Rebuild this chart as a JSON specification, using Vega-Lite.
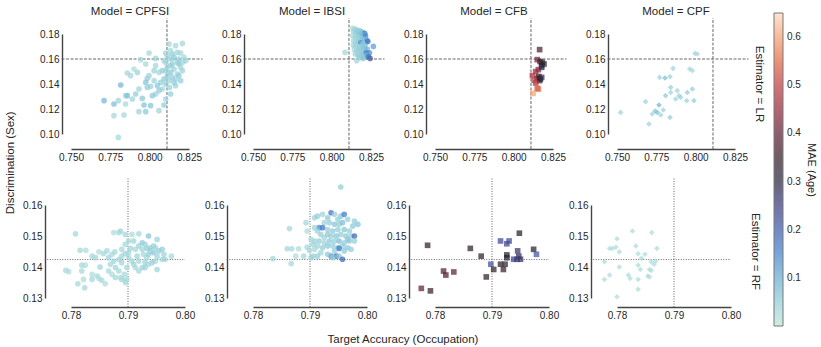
{
"$schema": "https://vega.github.io/schema/vega-lite/v6.json",
"config": {"view": {"stroke": null}, "font": "Liberation Sans",
  "axis": {"grid": false, "ticks": false, "labelFontSize": 10, "labelColor": "#262626", "domainColor": "#444", "domainWidth": 1.4, "title": null, "labelPadding": 3, "labelFont": "Liberation Sans", "labelOverlap": false, "labelFlush": false, "labelBound": false},
  "header": {"labelFont": "Liberation Sans", "labelFontSize": 11.5, "labelColor": "#262626"},
  "title": {"font": "Liberation Sans", "fontSize": 11.5, "fontWeight": "normal", "color": "#262626"},
  "legend": {"labelFont": "Liberation Sans", "titleFont": "Liberation Sans"}
},
"datasets": {"pts": [
{"Model":"CPFSI","Estimator":"LR","acc":0.8208,"disc":0.1725,"mae":0.03},
{"Model":"CPFSI","Estimator":"LR","acc":0.8123,"disc":0.1720,"mae":0.04},
{"Model":"CPFSI","Estimator":"LR","acc":0.8165,"disc":0.1707,"mae":0.03},
{"Model":"CPFSI","Estimator":"LR","acc":0.8176,"disc":0.1653,"mae":0.04},
{"Model":"CPFSI","Estimator":"LR","acc":0.8197,"disc":0.1648,"mae":0.03},
{"Model":"CPFSI","Estimator":"LR","acc":0.8144,"disc":0.1640,"mae":0.05},
{"Model":"CPFSI","Estimator":"LR","acc":0.8102,"disc":0.1648,"mae":0.03},
{"Model":"CPFSI","Estimator":"LR","acc":0.7996,"disc":0.1648,"mae":0.03},
{"Model":"CPFSI","Estimator":"LR","acc":0.8038,"disc":0.1605,"mae":0.04},
{"Model":"CPFSI","Estimator":"LR","acc":0.7943,"disc":0.1595,"mae":0.03},
{"Model":"CPFSI","Estimator":"LR","acc":0.7975,"disc":0.1560,"mae":0.03},
{"Model":"CPFSI","Estimator":"LR","acc":0.7900,"disc":0.1520,"mae":0.02},
{"Model":"CPFSI","Estimator":"LR","acc":0.7858,"disc":0.1488,"mae":0.03},
{"Model":"CPFSI","Estimator":"LR","acc":0.7879,"disc":0.1467,"mae":0.03},
{"Model":"CPFSI","Estimator":"LR","acc":0.7922,"disc":0.1493,"mae":0.04},
{"Model":"CPFSI","Estimator":"LR","acc":0.7985,"disc":0.1445,"mae":0.05},
{"Model":"CPFSI","Estimator":"LR","acc":0.8038,"disc":0.1547,"mae":0.03},
{"Model":"CPFSI","Estimator":"LR","acc":0.8028,"disc":0.1507,"mae":0.04},
{"Model":"CPFSI","Estimator":"LR","acc":0.8059,"disc":0.1493,"mae":0.03},
{"Model":"CPFSI","Estimator":"LR","acc":0.8080,"disc":0.1507,"mae":0.05},
{"Model":"CPFSI","Estimator":"LR","acc":0.8102,"disc":0.1573,"mae":0.04},
{"Model":"CPFSI","Estimator":"LR","acc":0.8123,"disc":0.1600,"mae":0.03},
{"Model":"CPFSI","Estimator":"LR","acc":0.8186,"disc":0.1600,"mae":0.04},
{"Model":"CPFSI","Estimator":"LR","acc":0.8208,"disc":0.1573,"mae":0.03},
{"Model":"CPFSI","Estimator":"LR","acc":0.8144,"disc":0.1560,"mae":0.05},
{"Model":"CPFSI","Estimator":"LR","acc":0.8155,"disc":0.1520,"mae":0.04},
{"Model":"CPFSI","Estimator":"LR","acc":0.8197,"disc":0.1533,"mae":0.03},
{"Model":"CPFSI","Estimator":"LR","acc":0.8176,"disc":0.1480,"mae":0.04},
{"Model":"CPFSI","Estimator":"LR","acc":0.8144,"disc":0.1453,"mae":0.05},
{"Model":"CPFSI","Estimator":"LR","acc":0.8123,"disc":0.1427,"mae":0.04},
{"Model":"CPFSI","Estimator":"LR","acc":0.8102,"disc":0.1400,"mae":0.05},
{"Model":"CPFSI","Estimator":"LR","acc":0.8080,"disc":0.1360,"mae":0.04},
{"Model":"CPFSI","Estimator":"LR","acc":0.8059,"disc":0.1347,"mae":0.05},
{"Model":"CPFSI","Estimator":"LR","acc":0.8038,"disc":0.1320,"mae":0.04},
{"Model":"CPFSI","Estimator":"LR","acc":0.8017,"disc":0.1307,"mae":0.06},
{"Model":"CPFSI","Estimator":"LR","acc":0.8006,"disc":0.1381,"mae":0.04},
{"Model":"CPFSI","Estimator":"LR","acc":0.7975,"disc":0.1413,"mae":0.07},
{"Model":"CPFSI","Estimator":"LR","acc":0.7985,"disc":0.1373,"mae":0.05},
{"Model":"CPFSI","Estimator":"LR","acc":0.7932,"disc":0.1360,"mae":0.04},
{"Model":"CPFSI","Estimator":"LR","acc":0.7911,"disc":0.1320,"mae":0.05},
{"Model":"CPFSI","Estimator":"LR","acc":0.7953,"disc":0.1285,"mae":0.06},
{"Model":"CPFSI","Estimator":"LR","acc":0.7890,"disc":0.1280,"mae":0.04},
{"Model":"CPFSI","Estimator":"LR","acc":0.7847,"disc":0.1307,"mae":0.03},
{"Model":"CPFSI","Estimator":"LR","acc":0.7816,"disc":0.1392,"mae":0.09},
{"Model":"CPFSI","Estimator":"LR","acc":0.7858,"disc":0.1307,"mae":0.08},
{"Model":"CPFSI","Estimator":"LR","acc":0.7710,"disc":0.1267,"mae":0.09},
{"Model":"CPFSI","Estimator":"LR","acc":0.7773,"disc":0.1240,"mae":0.08},
{"Model":"CPFSI","Estimator":"LR","acc":0.7801,"disc":0.1267,"mae":0.04},
{"Model":"CPFSI","Estimator":"LR","acc":0.7847,"disc":0.1240,"mae":0.03},
{"Model":"CPFSI","Estimator":"LR","acc":0.7773,"disc":0.1147,"mae":0.03},
{"Model":"CPFSI","Estimator":"LR","acc":0.7837,"disc":0.1152,"mae":0.03},
{"Model":"CPFSI","Estimator":"LR","acc":0.7801,"disc":0.0973,"mae":0.03},
{"Model":"CPFSI","Estimator":"LR","acc":0.7932,"disc":0.1179,"mae":0.04},
{"Model":"CPFSI","Estimator":"LR","acc":0.7975,"disc":0.1179,"mae":0.06},
{"Model":"CPFSI","Estimator":"LR","acc":0.8006,"disc":0.1227,"mae":0.07},
{"Model":"CPFSI","Estimator":"LR","acc":0.8059,"disc":0.1187,"mae":0.04},
{"Model":"CPFSI","Estimator":"LR","acc":0.8091,"disc":0.1232,"mae":0.05},
{"Model":"CPFSI","Estimator":"LR","acc":0.8102,"disc":0.1280,"mae":0.04},
{"Model":"CPFSI","Estimator":"LR","acc":0.8133,"disc":0.1320,"mae":0.05},
{"Model":"CPFSI","Estimator":"LR","acc":0.8165,"disc":0.1387,"mae":0.04},
{"Model":"CPFSI","Estimator":"LR","acc":0.8197,"disc":0.1427,"mae":0.05},
{"Model":"CPFSI","Estimator":"LR","acc":0.8165,"disc":0.1440,"mae":0.04},
{"Model":"CPFSI","Estimator":"LR","acc":0.8133,"disc":0.1493,"mae":0.06},
{"Model":"CPFSI","Estimator":"LR","acc":0.8112,"disc":0.1467,"mae":0.05},
{"Model":"CPFSI","Estimator":"LR","acc":0.8091,"disc":0.1440,"mae":0.06},
{"Model":"CPFSI","Estimator":"LR","acc":0.8070,"disc":0.1413,"mae":0.05},
{"Model":"CPFSI","Estimator":"LR","acc":0.8049,"disc":0.1387,"mae":0.06},
{"Model":"CPFSI","Estimator":"LR","acc":0.8028,"disc":0.1427,"mae":0.04},
{"Model":"CPFSI","Estimator":"LR","acc":0.7996,"disc":0.1467,"mae":0.04},
{"Model":"CPFSI","Estimator":"LR","acc":0.8208,"disc":0.1507,"mae":0.04},
{"Model":"CPFSI","Estimator":"LR","acc":0.8186,"disc":0.1560,"mae":0.05},
{"Model":"CPFSI","Estimator":"LR","acc":0.8218,"disc":0.1613,"mae":0.03},
{"Model":"CPFSI","Estimator":"LR","acc":0.8229,"disc":0.1587,"mae":0.04},
{"Model":"CPFSI","Estimator":"LR","acc":0.8155,"disc":0.1613,"mae":0.05},
{"Model":"CPFSI","Estimator":"LR","acc":0.8133,"disc":0.1667,"mae":0.03},
{"Model":"CPFSI","Estimator":"LR","acc":0.8112,"disc":0.1627,"mae":0.04},
{"Model":"CPFSI","Estimator":"LR","acc":0.8133,"disc":0.1547,"mae":0.05},
{"Model":"CPFSI","Estimator":"LR","acc":0.8112,"disc":0.1533,"mae":0.04},
{"Model":"CPFSI","Estimator":"LR","acc":0.8155,"disc":0.1413,"mae":0.05},
{"Model":"CPFSI","Estimator":"LR","acc":0.8127,"disc":0.1373,"mae":0.04},
{"Model":"CPFSI","Estimator":"LR","acc":0.8186,"disc":0.1467,"mae":0.05},
{"Model":"CPFSI","Estimator":"LR","acc":0.8102,"disc":0.1507,"mae":0.04},
{"Model":"CPFSI","Estimator":"LR","acc":0.8144,"disc":0.1600,"mae":0.04},
{"Model":"CPFSI","Estimator":"LR","acc":0.8176,"disc":0.1573,"mae":0.05},
{"Model":"CPFSI","Estimator":"LR","acc":0.8091,"disc":0.1587,"mae":0.03},
{"Model":"CPFSI","Estimator":"LR","acc":0.7964,"disc":0.1232,"mae":0.07},
{"Model":"IBSI","Estimator":"LR","acc":0.8134,"disc":0.1845,"mae":0.03},
{"Model":"IBSI","Estimator":"LR","acc":0.8150,"disc":0.1840,"mae":0.04},
{"Model":"IBSI","Estimator":"LR","acc":0.8165,"disc":0.1830,"mae":0.05},
{"Model":"IBSI","Estimator":"LR","acc":0.8180,"disc":0.1825,"mae":0.06},
{"Model":"IBSI","Estimator":"LR","acc":0.8195,"disc":0.1815,"mae":0.08},
{"Model":"IBSI","Estimator":"LR","acc":0.8210,"disc":0.1805,"mae":0.16},
{"Model":"IBSI","Estimator":"LR","acc":0.8140,"disc":0.1820,"mae":0.04},
{"Model":"IBSI","Estimator":"LR","acc":0.8155,"disc":0.1810,"mae":0.05},
{"Model":"IBSI","Estimator":"LR","acc":0.8170,"disc":0.1800,"mae":0.06},
{"Model":"IBSI","Estimator":"LR","acc":0.8185,"disc":0.1795,"mae":0.07},
{"Model":"IBSI","Estimator":"LR","acc":0.8200,"disc":0.1790,"mae":0.09},
{"Model":"IBSI","Estimator":"LR","acc":0.8215,"disc":0.1785,"mae":0.15},
{"Model":"IBSI","Estimator":"LR","acc":0.8135,"disc":0.1785,"mae":0.03},
{"Model":"IBSI","Estimator":"LR","acc":0.8150,"disc":0.1775,"mae":0.04},
{"Model":"IBSI","Estimator":"LR","acc":0.8165,"disc":0.1770,"mae":0.04},
{"Model":"IBSI","Estimator":"LR","acc":0.8180,"disc":0.1765,"mae":0.05},
{"Model":"IBSI","Estimator":"LR","acc":0.8195,"disc":0.1760,"mae":0.07},
{"Model":"IBSI","Estimator":"LR","acc":0.8210,"disc":0.1755,"mae":0.08},
{"Model":"IBSI","Estimator":"LR","acc":0.8225,"disc":0.1750,"mae":0.12},
{"Model":"IBSI","Estimator":"LR","acc":0.8140,"disc":0.1745,"mae":0.03},
{"Model":"IBSI","Estimator":"LR","acc":0.8155,"disc":0.1740,"mae":0.04},
{"Model":"IBSI","Estimator":"LR","acc":0.8170,"disc":0.1735,"mae":0.05},
{"Model":"IBSI","Estimator":"LR","acc":0.8185,"disc":0.1730,"mae":0.14},
{"Model":"IBSI","Estimator":"LR","acc":0.8200,"disc":0.1725,"mae":0.06},
{"Model":"IBSI","Estimator":"LR","acc":0.8215,"disc":0.1720,"mae":0.07},
{"Model":"IBSI","Estimator":"LR","acc":0.8230,"disc":0.1740,"mae":0.17},
{"Model":"IBSI","Estimator":"LR","acc":0.8138,"disc":0.1710,"mae":0.03},
{"Model":"IBSI","Estimator":"LR","acc":0.8152,"disc":0.1705,"mae":0.04},
{"Model":"IBSI","Estimator":"LR","acc":0.8168,"disc":0.1700,"mae":0.04},
{"Model":"IBSI","Estimator":"LR","acc":0.8183,"disc":0.1695,"mae":0.05},
{"Model":"IBSI","Estimator":"LR","acc":0.8198,"disc":0.1690,"mae":0.06},
{"Model":"IBSI","Estimator":"LR","acc":0.8212,"disc":0.1685,"mae":0.07},
{"Model":"IBSI","Estimator":"LR","acc":0.8226,"disc":0.1680,"mae":0.09},
{"Model":"IBSI","Estimator":"LR","acc":0.8265,"disc":0.1701,"mae":0.12},
{"Model":"IBSI","Estimator":"LR","acc":0.8145,"disc":0.1675,"mae":0.03},
{"Model":"IBSI","Estimator":"LR","acc":0.8160,"disc":0.1670,"mae":0.04},
{"Model":"IBSI","Estimator":"LR","acc":0.8175,"disc":0.1665,"mae":0.05},
{"Model":"IBSI","Estimator":"LR","acc":0.8190,"disc":0.1660,"mae":0.05},
{"Model":"IBSI","Estimator":"LR","acc":0.8205,"disc":0.1655,"mae":0.06},
{"Model":"IBSI","Estimator":"LR","acc":0.8220,"disc":0.1650,"mae":0.16},
{"Model":"IBSI","Estimator":"LR","acc":0.8240,"disc":0.1650,"mae":0.14},
{"Model":"IBSI","Estimator":"LR","acc":0.8085,"disc":0.1653,"mae":0.03},
{"Model":"IBSI","Estimator":"LR","acc":0.8150,"disc":0.1640,"mae":0.04},
{"Model":"IBSI","Estimator":"LR","acc":0.8165,"disc":0.1635,"mae":0.04},
{"Model":"IBSI","Estimator":"LR","acc":0.8180,"disc":0.1630,"mae":0.05},
{"Model":"IBSI","Estimator":"LR","acc":0.8195,"disc":0.1625,"mae":0.06},
{"Model":"IBSI","Estimator":"LR","acc":0.8210,"disc":0.1620,"mae":0.07},
{"Model":"IBSI","Estimator":"LR","acc":0.8225,"disc":0.1625,"mae":0.08},
{"Model":"IBSI","Estimator":"LR","acc":0.8159,"disc":0.1587,"mae":0.03},
{"Model":"IBSI","Estimator":"LR","acc":0.8244,"disc":0.1605,"mae":0.21},
{"Model":"IBSI","Estimator":"LR","acc":0.8175,"disc":0.1610,"mae":0.05},
{"Model":"IBSI","Estimator":"LR","acc":0.8200,"disc":0.1605,"mae":0.06},
{"Model":"IBSI","Estimator":"LR","acc":0.8233,"disc":0.1620,"mae":0.18},
{"Model":"CFB","Estimator":"LR","acc":0.8165,"disc":0.1675,"mae":0.37},
{"Model":"CFB","Estimator":"LR","acc":0.8150,"disc":0.1595,"mae":0.42},
{"Model":"CFB","Estimator":"LR","acc":0.8182,"disc":0.1573,"mae":0.33},
{"Model":"CFB","Estimator":"LR","acc":0.8193,"disc":0.1560,"mae":0.30},
{"Model":"CFB","Estimator":"LR","acc":0.8178,"disc":0.1547,"mae":0.34},
{"Model":"CFB","Estimator":"LR","acc":0.8157,"disc":0.1515,"mae":0.43},
{"Model":"CFB","Estimator":"LR","acc":0.8140,"disc":0.1499,"mae":0.45},
{"Model":"CFB","Estimator":"LR","acc":0.8119,"disc":0.1467,"mae":0.48},
{"Model":"CFB","Estimator":"LR","acc":0.8150,"disc":0.1445,"mae":0.33},
{"Model":"CFB","Estimator":"LR","acc":0.8165,"disc":0.1427,"mae":0.34},
{"Model":"CFB","Estimator":"LR","acc":0.8170,"disc":0.1440,"mae":0.32},
{"Model":"CFB","Estimator":"LR","acc":0.8140,"disc":0.1408,"mae":0.47},
{"Model":"CFB","Estimator":"LR","acc":0.8150,"disc":0.1365,"mae":0.52},
{"Model":"CFB","Estimator":"LR","acc":0.8123,"disc":0.1325,"mae":0.60},
{"Model":"CFB","Estimator":"LR","acc":0.8157,"disc":0.1360,"mae":0.55},
{"Model":"CFB","Estimator":"LR","acc":0.8178,"disc":0.1453,"mae":0.28},
{"Model":"CFB","Estimator":"LR","acc":0.8178,"disc":0.1533,"mae":0.29},
{"Model":"CFB","Estimator":"LR","acc":0.8168,"disc":0.1580,"mae":0.35},
{"Model":"CFB","Estimator":"LR","acc":0.8160,"disc":0.1460,"mae":0.36},
{"Model":"CFB","Estimator":"LR","acc":0.8130,"disc":0.1430,"mae":0.50},
{"Model":"CPF","Estimator":"LR","acc":0.7996,"disc":0.1645,"mae":0.04},
{"Model":"CPF","Estimator":"LR","acc":0.8011,"disc":0.1640,"mae":0.03},
{"Model":"CPF","Estimator":"LR","acc":0.7962,"disc":0.1520,"mae":0.04},
{"Model":"CPF","Estimator":"LR","acc":0.7979,"disc":0.1507,"mae":0.03},
{"Model":"CPF","Estimator":"LR","acc":0.7856,"disc":0.1525,"mae":0.04},
{"Model":"CPF","Estimator":"LR","acc":0.7771,"disc":0.1453,"mae":0.04},
{"Model":"CPF","Estimator":"LR","acc":0.7805,"disc":0.1448,"mae":0.08},
{"Model":"CPF","Estimator":"LR","acc":0.7837,"disc":0.1459,"mae":0.04},
{"Model":"CPF","Estimator":"LR","acc":0.7841,"disc":0.1373,"mae":0.05},
{"Model":"CPF","Estimator":"LR","acc":0.7841,"disc":0.1333,"mae":0.04},
{"Model":"CPF","Estimator":"LR","acc":0.7809,"disc":0.1307,"mae":0.06},
{"Model":"CPF","Estimator":"LR","acc":0.7883,"disc":0.1347,"mae":0.04},
{"Model":"CPF","Estimator":"LR","acc":0.7894,"disc":0.1307,"mae":0.04},
{"Model":"CPF","Estimator":"LR","acc":0.7947,"disc":0.1333,"mae":0.05},
{"Model":"CPF","Estimator":"LR","acc":0.7979,"disc":0.1360,"mae":0.05},
{"Model":"CPF","Estimator":"LR","acc":0.7943,"disc":0.1267,"mae":0.04},
{"Model":"CPF","Estimator":"LR","acc":0.7989,"disc":0.1267,"mae":0.05},
{"Model":"CPF","Estimator":"LR","acc":0.7905,"disc":0.1293,"mae":0.04},
{"Model":"CPF","Estimator":"LR","acc":0.7873,"disc":0.1280,"mae":0.04},
{"Model":"CPF","Estimator":"LR","acc":0.7682,"disc":0.1259,"mae":0.04},
{"Model":"CPF","Estimator":"LR","acc":0.7767,"disc":0.1232,"mae":0.09},
{"Model":"CPF","Estimator":"LR","acc":0.7794,"disc":0.1192,"mae":0.04},
{"Model":"CPF","Estimator":"LR","acc":0.7756,"disc":0.1173,"mae":0.08},
{"Model":"CPF","Estimator":"LR","acc":0.7742,"disc":0.1184,"mae":0.07},
{"Model":"CPF","Estimator":"LR","acc":0.7724,"disc":0.1160,"mae":0.04},
{"Model":"CPF","Estimator":"LR","acc":0.7778,"disc":0.1152,"mae":0.04},
{"Model":"CPF","Estimator":"LR","acc":0.7837,"disc":0.1133,"mae":0.05},
{"Model":"CPF","Estimator":"LR","acc":0.7523,"disc":0.1173,"mae":0.04},
{"Model":"CPF","Estimator":"LR","acc":0.7703,"disc":0.1080,"mae":0.04},
{"Model":"CPFSI","Estimator":"RF","acc":0.7808,"disc":0.1507,"mae":0.03},
{"Model":"CPFSI","Estimator":"RF","acc":0.7791,"disc":0.1389,"mae":0.03},
{"Model":"CPFSI","Estimator":"RF","acc":0.7796,"disc":0.1385,"mae":0.02},
{"Model":"CPFSI","Estimator":"RF","acc":0.7816,"disc":0.1454,"mae":0.03},
{"Model":"CPFSI","Estimator":"RF","acc":0.7826,"disc":0.1454,"mae":0.02},
{"Model":"CPFSI","Estimator":"RF","acc":0.7819,"disc":0.1406,"mae":0.03},
{"Model":"CPFSI","Estimator":"RF","acc":0.7825,"disc":0.1406,"mae":0.02},
{"Model":"CPFSI","Estimator":"RF","acc":0.7819,"disc":0.1387,"mae":0.03},
{"Model":"CPFSI","Estimator":"RF","acc":0.7822,"disc":0.1360,"mae":0.02},
{"Model":"CPFSI","Estimator":"RF","acc":0.7812,"disc":0.1346,"mae":0.03},
{"Model":"CPFSI","Estimator":"RF","acc":0.7824,"disc":0.1333,"mae":0.03},
{"Model":"CPFSI","Estimator":"RF","acc":0.7837,"disc":0.1376,"mae":0.02},
{"Model":"CPFSI","Estimator":"RF","acc":0.7846,"disc":0.1371,"mae":0.03},
{"Model":"CPFSI","Estimator":"RF","acc":0.7837,"disc":0.1360,"mae":0.03},
{"Model":"CPFSI","Estimator":"RF","acc":0.7849,"disc":0.1363,"mae":0.02},
{"Model":"CPFSI","Estimator":"RF","acc":0.7854,"disc":0.1357,"mae":0.03},
{"Model":"CPFSI","Estimator":"RF","acc":0.7860,"disc":0.1346,"mae":0.02},
{"Model":"CPFSI","Estimator":"RF","acc":0.7851,"disc":0.1400,"mae":0.04},
{"Model":"CPFSI","Estimator":"RF","acc":0.7843,"disc":0.1430,"mae":0.03},
{"Model":"CPFSI","Estimator":"RF","acc":0.7837,"disc":0.1435,"mae":0.03},
{"Model":"CPFSI","Estimator":"RF","acc":0.7849,"disc":0.1449,"mae":0.02},
{"Model":"CPFSI","Estimator":"RF","acc":0.7857,"disc":0.1443,"mae":0.03},
{"Model":"CPFSI","Estimator":"RF","acc":0.7863,"disc":0.1452,"mae":0.03},
{"Model":"CPFSI","Estimator":"RF","acc":0.7866,"disc":0.1430,"mae":0.04},
{"Model":"CPFSI","Estimator":"RF","acc":0.7872,"disc":0.1441,"mae":0.03},
{"Model":"CPFSI","Estimator":"RF","acc":0.7877,"disc":0.1449,"mae":0.03},
{"Model":"CPFSI","Estimator":"RF","acc":0.7875,"disc":0.1419,"mae":0.04},
{"Model":"CPFSI","Estimator":"RF","acc":0.7869,"disc":0.1409,"mae":0.03},
{"Model":"CPFSI","Estimator":"RF","acc":0.7866,"disc":0.1387,"mae":0.03},
{"Model":"CPFSI","Estimator":"RF","acc":0.7872,"disc":0.1376,"mae":0.02},
{"Model":"CPFSI","Estimator":"RF","acc":0.7878,"disc":0.1398,"mae":0.04},
{"Model":"CPFSI","Estimator":"RF","acc":0.7884,"disc":0.1387,"mae":0.03},
{"Model":"CPFSI","Estimator":"RF","acc":0.7878,"disc":0.1366,"mae":0.03},
{"Model":"CPFSI","Estimator":"RF","acc":0.7887,"disc":0.1366,"mae":0.02},
{"Model":"CPFSI","Estimator":"RF","acc":0.7889,"disc":0.1360,"mae":0.03},
{"Model":"CPFSI","Estimator":"RF","acc":0.7895,"disc":0.1355,"mae":0.03},
{"Model":"CPFSI","Estimator":"RF","acc":0.7898,"disc":0.1360,"mae":0.02},
{"Model":"CPFSI","Estimator":"RF","acc":0.7894,"disc":0.1376,"mae":0.03},
{"Model":"CPFSI","Estimator":"RF","acc":0.7898,"disc":0.1398,"mae":0.03},
{"Model":"CPFSI","Estimator":"RF","acc":0.7889,"disc":0.1414,"mae":0.04},
{"Model":"CPFSI","Estimator":"RF","acc":0.7884,"disc":0.1425,"mae":0.03},
{"Model":"CPFSI","Estimator":"RF","acc":0.7889,"disc":0.1435,"mae":0.03},
{"Model":"CPFSI","Estimator":"RF","acc":0.7895,"disc":0.1443,"mae":0.04},
{"Model":"CPFSI","Estimator":"RF","acc":0.7901,"disc":0.1430,"mae":0.03},
{"Model":"CPFSI","Estimator":"RF","acc":0.7907,"disc":0.1419,"mae":0.03},
{"Model":"CPFSI","Estimator":"RF","acc":0.7910,"disc":0.1409,"mae":0.04},
{"Model":"CPFSI","Estimator":"RF","acc":0.7913,"disc":0.1398,"mae":0.03},
{"Model":"CPFSI","Estimator":"RF","acc":0.7919,"disc":0.1387,"mae":0.03},
{"Model":"CPFSI","Estimator":"RF","acc":0.7925,"disc":0.1398,"mae":0.04},
{"Model":"CPFSI","Estimator":"RF","acc":0.7930,"disc":0.1414,"mae":0.04},
{"Model":"CPFSI","Estimator":"RF","acc":0.7933,"disc":0.1430,"mae":0.03},
{"Model":"CPFSI","Estimator":"RF","acc":0.7936,"disc":0.1441,"mae":0.05},
{"Model":"CPFSI","Estimator":"RF","acc":0.7939,"disc":0.1452,"mae":0.04},
{"Model":"CPFSI","Estimator":"RF","acc":0.7945,"disc":0.1446,"mae":0.06},
{"Model":"CPFSI","Estimator":"RF","acc":0.7951,"disc":0.1435,"mae":0.04},
{"Model":"CPFSI","Estimator":"RF","acc":0.7948,"disc":0.1419,"mae":0.03},
{"Model":"CPFSI","Estimator":"RF","acc":0.7951,"disc":0.1392,"mae":0.04},
{"Model":"CPFSI","Estimator":"RF","acc":0.7942,"disc":0.1414,"mae":0.05},
{"Model":"CPFSI","Estimator":"RF","acc":0.7936,"disc":0.1409,"mae":0.03},
{"Model":"CPFSI","Estimator":"RF","acc":0.7930,"disc":0.1398,"mae":0.04},
{"Model":"CPFSI","Estimator":"RF","acc":0.7919,"disc":0.1419,"mae":0.03},
{"Model":"CPFSI","Estimator":"RF","acc":0.7916,"disc":0.1435,"mae":0.04},
{"Model":"CPFSI","Estimator":"RF","acc":0.7913,"disc":0.1457,"mae":0.03},
{"Model":"CPFSI","Estimator":"RF","acc":0.7919,"disc":0.1468,"mae":0.04},
{"Model":"CPFSI","Estimator":"RF","acc":0.7925,"disc":0.1478,"mae":0.06},
{"Model":"CPFSI","Estimator":"RF","acc":0.7930,"disc":0.1473,"mae":0.04},
{"Model":"CPFSI","Estimator":"RF","acc":0.7936,"disc":0.1500,"mae":0.07},
{"Model":"CPFSI","Estimator":"RF","acc":0.7951,"disc":0.1489,"mae":0.04},
{"Model":"CPFSI","Estimator":"RF","acc":0.7939,"disc":0.1462,"mae":0.05},
{"Model":"CPFSI","Estimator":"RF","acc":0.7945,"disc":0.1468,"mae":0.04},
{"Model":"CPFSI","Estimator":"RF","acc":0.7954,"disc":0.1452,"mae":0.05},
{"Model":"CPFSI","Estimator":"RF","acc":0.7960,"disc":0.1425,"mae":0.03},
{"Model":"CPFSI","Estimator":"RF","acc":0.7965,"disc":0.1425,"mae":0.04},
{"Model":"CPFSI","Estimator":"RF","acc":0.7976,"disc":0.1435,"mae":0.03},
{"Model":"CPFSI","Estimator":"RF","acc":0.7963,"disc":0.1441,"mae":0.04},
{"Model":"CPFSI","Estimator":"RF","acc":0.7960,"disc":0.1457,"mae":0.05},
{"Model":"CPFSI","Estimator":"RF","acc":0.7948,"disc":0.1462,"mae":0.04},
{"Model":"CPFSI","Estimator":"RF","acc":0.7884,"disc":0.1511,"mae":0.03},
{"Model":"CPFSI","Estimator":"RF","acc":0.7875,"disc":0.1511,"mae":0.02},
{"Model":"CPFSI","Estimator":"RF","acc":0.7887,"disc":0.1516,"mae":0.03},
{"Model":"CPFSI","Estimator":"RF","acc":0.7895,"disc":0.1505,"mae":0.03},
{"Model":"CPFSI","Estimator":"RF","acc":0.7907,"disc":0.1505,"mae":0.02},
{"Model":"CPFSI","Estimator":"RF","acc":0.7919,"disc":0.1507,"mae":0.03},
{"Model":"CPFSI","Estimator":"RF","acc":0.7901,"disc":0.1484,"mae":0.03},
{"Model":"CPFSI","Estimator":"RF","acc":0.7910,"disc":0.1484,"mae":0.04},
{"Model":"CPFSI","Estimator":"RF","acc":0.7895,"disc":0.1473,"mae":0.03},
{"Model":"CPFSI","Estimator":"RF","acc":0.7889,"disc":0.1457,"mae":0.03},
{"Model":"CPFSI","Estimator":"RF","acc":0.7904,"disc":0.1460,"mae":0.04},
{"Model":"CPFSI","Estimator":"RF","acc":0.7901,"disc":0.1446,"mae":0.03},
{"Model":"CPFSI","Estimator":"RF","acc":0.7925,"disc":0.1457,"mae":0.04},
{"Model":"CPFSI","Estimator":"RF","acc":0.7927,"disc":0.1441,"mae":0.03},
{"Model":"CPFSI","Estimator":"RF","acc":0.7933,"disc":0.1460,"mae":0.05},
{"Model":"CPFSI","Estimator":"RF","acc":0.7896,"disc":0.1349,"mae":0.02},
{"Model":"IBSI","Estimator":"RF","acc":0.7954,"disc":0.1658,"mae":0.05},
{"Model":"IBSI","Estimator":"RF","acc":0.7864,"disc":0.1524,"mae":0.03},
{"Model":"IBSI","Estimator":"RF","acc":0.7893,"disc":0.1543,"mae":0.03},
{"Model":"IBSI","Estimator":"RF","acc":0.7895,"disc":0.1516,"mae":0.02},
{"Model":"IBSI","Estimator":"RF","acc":0.7860,"disc":0.1459,"mae":0.03},
{"Model":"IBSI","Estimator":"RF","acc":0.7868,"disc":0.1459,"mae":0.03},
{"Model":"IBSI","Estimator":"RF","acc":0.7880,"disc":0.1459,"mae":0.02},
{"Model":"IBSI","Estimator":"RF","acc":0.7867,"disc":0.1411,"mae":0.03},
{"Model":"IBSI","Estimator":"RF","acc":0.7835,"disc":0.1427,"mae":0.03},
{"Model":"IBSI","Estimator":"RF","acc":0.7875,"disc":0.1435,"mae":0.02},
{"Model":"IBSI","Estimator":"RF","acc":0.7889,"disc":0.1435,"mae":0.03},
{"Model":"IBSI","Estimator":"RF","acc":0.7895,"disc":0.1464,"mae":0.03},
{"Model":"IBSI","Estimator":"RF","acc":0.7905,"disc":0.1473,"mae":0.04},
{"Model":"IBSI","Estimator":"RF","acc":0.7899,"disc":0.1454,"mae":0.03},
{"Model":"IBSI","Estimator":"RF","acc":0.7902,"disc":0.1430,"mae":0.04},
{"Model":"IBSI","Estimator":"RF","acc":0.7908,"disc":0.1457,"mae":0.03},
{"Model":"IBSI","Estimator":"RF","acc":0.7908,"disc":0.1559,"mae":0.04},
{"Model":"IBSI","Estimator":"RF","acc":0.7913,"disc":0.1564,"mae":0.05},
{"Model":"IBSI","Estimator":"RF","acc":0.7922,"disc":0.1570,"mae":0.04},
{"Model":"IBSI","Estimator":"RF","acc":0.7931,"disc":0.1559,"mae":0.06},
{"Model":"IBSI","Estimator":"RF","acc":0.7937,"disc":0.1575,"mae":0.18},
{"Model":"IBSI","Estimator":"RF","acc":0.7943,"disc":0.1570,"mae":0.05},
{"Model":"IBSI","Estimator":"RF","acc":0.7954,"disc":0.1564,"mae":0.06},
{"Model":"IBSI","Estimator":"RF","acc":0.7960,"disc":0.1570,"mae":0.16},
{"Model":"IBSI","Estimator":"RF","acc":0.7949,"disc":0.1554,"mae":0.05},
{"Model":"IBSI","Estimator":"RF","acc":0.7925,"disc":0.1543,"mae":0.04},
{"Model":"IBSI","Estimator":"RF","acc":0.7934,"disc":0.1543,"mae":0.05},
{"Model":"IBSI","Estimator":"RF","acc":0.7943,"disc":0.1538,"mae":0.07},
{"Model":"IBSI","Estimator":"RF","acc":0.7951,"disc":0.1538,"mae":0.05},
{"Model":"IBSI","Estimator":"RF","acc":0.7957,"disc":0.1543,"mae":0.08},
{"Model":"IBSI","Estimator":"RF","acc":0.7966,"disc":0.1554,"mae":0.05},
{"Model":"IBSI","Estimator":"RF","acc":0.7975,"disc":0.1532,"mae":0.06},
{"Model":"IBSI","Estimator":"RF","acc":0.7969,"disc":0.1516,"mae":0.05},
{"Model":"IBSI","Estimator":"RF","acc":0.7960,"disc":0.1521,"mae":0.07},
{"Model":"IBSI","Estimator":"RF","acc":0.7949,"disc":0.1521,"mae":0.05},
{"Model":"IBSI","Estimator":"RF","acc":0.7940,"disc":0.1516,"mae":0.06},
{"Model":"IBSI","Estimator":"RF","acc":0.7931,"disc":0.1521,"mae":0.05},
{"Model":"IBSI","Estimator":"RF","acc":0.7922,"disc":0.1527,"mae":0.17},
{"Model":"IBSI","Estimator":"RF","acc":0.7916,"disc":0.1527,"mae":0.15},
{"Model":"IBSI","Estimator":"RF","acc":0.7913,"disc":0.1516,"mae":0.04},
{"Model":"IBSI","Estimator":"RF","acc":0.7908,"disc":0.1527,"mae":0.04},
{"Model":"IBSI","Estimator":"RF","acc":0.7919,"disc":0.1505,"mae":0.05},
{"Model":"IBSI","Estimator":"RF","acc":0.7925,"disc":0.1495,"mae":0.04},
{"Model":"IBSI","Estimator":"RF","acc":0.7931,"disc":0.1505,"mae":0.06},
{"Model":"IBSI","Estimator":"RF","acc":0.7937,"disc":0.1500,"mae":0.05},
{"Model":"IBSI","Estimator":"RF","acc":0.7946,"disc":0.1500,"mae":0.07},
{"Model":"IBSI","Estimator":"RF","acc":0.7954,"disc":0.1505,"mae":0.05},
{"Model":"IBSI","Estimator":"RF","acc":0.7963,"disc":0.1500,"mae":0.06},
{"Model":"IBSI","Estimator":"RF","acc":0.7972,"disc":0.1500,"mae":0.05},
{"Model":"IBSI","Estimator":"RF","acc":0.7978,"disc":0.1500,"mae":0.19},
{"Model":"IBSI","Estimator":"RF","acc":0.7966,"disc":0.1489,"mae":0.06},
{"Model":"IBSI","Estimator":"RF","acc":0.7960,"disc":0.1478,"mae":0.05},
{"Model":"IBSI","Estimator":"RF","acc":0.7951,"disc":0.1484,"mae":0.08},
{"Model":"IBSI","Estimator":"RF","acc":0.7943,"disc":0.1484,"mae":0.05},
{"Model":"IBSI","Estimator":"RF","acc":0.7934,"disc":0.1484,"mae":0.06},
{"Model":"IBSI","Estimator":"RF","acc":0.7925,"disc":0.1478,"mae":0.04},
{"Model":"IBSI","Estimator":"RF","acc":0.7916,"disc":0.1484,"mae":0.05},
{"Model":"IBSI","Estimator":"RF","acc":0.7908,"disc":0.1484,"mae":0.04},
{"Model":"IBSI","Estimator":"RF","acc":0.7902,"disc":0.1489,"mae":0.03},
{"Model":"IBSI","Estimator":"RF","acc":0.7913,"disc":0.1468,"mae":0.04},
{"Model":"IBSI","Estimator":"RF","acc":0.7922,"disc":0.1462,"mae":0.05},
{"Model":"IBSI","Estimator":"RF","acc":0.7931,"disc":0.1468,"mae":0.06},
{"Model":"IBSI","Estimator":"RF","acc":0.7940,"disc":0.1468,"mae":0.05},
{"Model":"IBSI","Estimator":"RF","acc":0.7949,"disc":0.1462,"mae":0.07},
{"Model":"IBSI","Estimator":"RF","acc":0.7957,"disc":0.1468,"mae":0.05},
{"Model":"IBSI","Estimator":"RF","acc":0.7966,"disc":0.1462,"mae":0.06},
{"Model":"IBSI","Estimator":"RF","acc":0.7972,"disc":0.1457,"mae":0.05},
{"Model":"IBSI","Estimator":"RF","acc":0.7960,"disc":0.1452,"mae":0.06},
{"Model":"IBSI","Estimator":"RF","acc":0.7951,"disc":0.1460,"mae":0.16},
{"Model":"IBSI","Estimator":"RF","acc":0.7943,"disc":0.1452,"mae":0.05},
{"Model":"IBSI","Estimator":"RF","acc":0.7937,"disc":0.1435,"mae":0.15},
{"Model":"IBSI","Estimator":"RF","acc":0.7946,"disc":0.1435,"mae":0.17},
{"Model":"IBSI","Estimator":"RF","acc":0.7951,"disc":0.1435,"mae":0.06},
{"Model":"IBSI","Estimator":"RF","acc":0.7957,"disc":0.1425,"mae":0.19},
{"Model":"IBSI","Estimator":"RF","acc":0.7940,"disc":0.1430,"mae":0.05},
{"Model":"IBSI","Estimator":"RF","acc":0.7931,"disc":0.1441,"mae":0.06},
{"Model":"IBSI","Estimator":"RF","acc":0.7919,"disc":0.1446,"mae":0.04},
{"Model":"IBSI","Estimator":"RF","acc":0.7913,"disc":0.1435,"mae":0.05},
{"Model":"IBSI","Estimator":"RF","acc":0.7905,"disc":0.1435,"mae":0.04},
{"Model":"IBSI","Estimator":"RF","acc":0.7969,"disc":0.1484,"mae":0.06},
{"Model":"IBSI","Estimator":"RF","acc":0.7978,"disc":0.1484,"mae":0.05},
{"Model":"IBSI","Estimator":"RF","acc":0.7984,"disc":0.1538,"mae":0.07},
{"Model":"IBSI","Estimator":"RF","acc":0.7978,"disc":0.1548,"mae":0.05},
{"Model":"CFB","Estimator":"RF","acc":0.7787,"disc":0.1470,"mae":0.34},
{"Model":"CFB","Estimator":"RF","acc":0.7776,"disc":0.1331,"mae":0.40},
{"Model":"CFB","Estimator":"RF","acc":0.7792,"disc":0.1323,"mae":0.35},
{"Model":"CFB","Estimator":"RF","acc":0.7815,"disc":0.1387,"mae":0.38},
{"Model":"CFB","Estimator":"RF","acc":0.7819,"disc":0.1374,"mae":0.38},
{"Model":"CFB","Estimator":"RF","acc":0.7833,"disc":0.1384,"mae":0.39},
{"Model":"CFB","Estimator":"RF","acc":0.7862,"disc":0.1460,"mae":0.34},
{"Model":"CFB","Estimator":"RF","acc":0.7881,"disc":0.1435,"mae":0.34},
{"Model":"CFB","Estimator":"RF","acc":0.7890,"disc":0.1368,"mae":0.34},
{"Model":"CFB","Estimator":"RF","acc":0.7898,"disc":0.1409,"mae":0.22},
{"Model":"CFB","Estimator":"RF","acc":0.7903,"disc":0.1392,"mae":0.34},
{"Model":"CFB","Estimator":"RF","acc":0.7915,"disc":0.1409,"mae":0.34},
{"Model":"CFB","Estimator":"RF","acc":0.7920,"disc":0.1392,"mae":0.35},
{"Model":"CFB","Estimator":"RF","acc":0.7923,"disc":0.1409,"mae":0.31},
{"Model":"CFB","Estimator":"RF","acc":0.7915,"disc":0.1484,"mae":0.23},
{"Model":"CFB","Estimator":"RF","acc":0.7926,"disc":0.1475,"mae":0.24},
{"Model":"CFB","Estimator":"RF","acc":0.7930,"disc":0.1484,"mae":0.23},
{"Model":"CFB","Estimator":"RF","acc":0.7926,"disc":0.1439,"mae":0.32},
{"Model":"CFB","Estimator":"RF","acc":0.7926,"disc":0.1430,"mae":0.33},
{"Model":"CFB","Estimator":"RF","acc":0.7948,"disc":0.1509,"mae":0.33},
{"Model":"CFB","Estimator":"RF","acc":0.7945,"disc":0.1452,"mae":0.27},
{"Model":"CFB","Estimator":"RF","acc":0.7947,"disc":0.1435,"mae":0.29},
{"Model":"CFB","Estimator":"RF","acc":0.7950,"disc":0.1425,"mae":0.28},
{"Model":"CFB","Estimator":"RF","acc":0.7938,"disc":0.1425,"mae":0.24},
{"Model":"CFB","Estimator":"RF","acc":0.7944,"disc":0.1425,"mae":0.26},
{"Model":"CFB","Estimator":"RF","acc":0.7973,"disc":0.1457,"mae":0.33},
{"Model":"CFB","Estimator":"RF","acc":0.7978,"disc":0.1441,"mae":0.21},
{"Model":"CPF","Estimator":"RF","acc":0.7827,"disc":0.1516,"mae":0.02},
{"Model":"CPF","Estimator":"RF","acc":0.7861,"disc":0.1511,"mae":0.02},
{"Model":"CPF","Estimator":"RF","acc":0.7800,"disc":0.1491,"mae":0.02},
{"Model":"CPF","Estimator":"RF","acc":0.7787,"disc":0.1460,"mae":0.02},
{"Model":"CPF","Estimator":"RF","acc":0.7792,"disc":0.1460,"mae":0.02},
{"Model":"CPF","Estimator":"RF","acc":0.7798,"disc":0.1464,"mae":0.02},
{"Model":"CPF","Estimator":"RF","acc":0.7804,"disc":0.1449,"mae":0.02},
{"Model":"CPF","Estimator":"RF","acc":0.7833,"disc":0.1468,"mae":0.02},
{"Model":"CPF","Estimator":"RF","acc":0.7837,"disc":0.1443,"mae":0.02},
{"Model":"CPF","Estimator":"RF","acc":0.7849,"disc":0.1441,"mae":0.02},
{"Model":"CPF","Estimator":"RF","acc":0.7843,"disc":0.1428,"mae":0.02},
{"Model":"CPF","Estimator":"RF","acc":0.7870,"disc":0.1460,"mae":0.02},
{"Model":"CPF","Estimator":"RF","acc":0.7778,"disc":0.1417,"mae":0.02},
{"Model":"CPF","Estimator":"RF","acc":0.7804,"disc":0.1400,"mae":0.02},
{"Model":"CPF","Estimator":"RF","acc":0.7837,"disc":0.1406,"mae":0.02},
{"Model":"CPF","Estimator":"RF","acc":0.7841,"disc":0.1392,"mae":0.02},
{"Model":"CPF","Estimator":"RF","acc":0.7860,"disc":0.1417,"mae":0.02},
{"Model":"CPF","Estimator":"RF","acc":0.7868,"disc":0.1419,"mae":0.02},
{"Model":"CPF","Estimator":"RF","acc":0.7865,"disc":0.1409,"mae":0.02},
{"Model":"CPF","Estimator":"RF","acc":0.7857,"disc":0.1392,"mae":0.02},
{"Model":"CPF","Estimator":"RF","acc":0.7860,"disc":0.1389,"mae":0.02},
{"Model":"CPF","Estimator":"RF","acc":0.7787,"disc":0.1374,"mae":0.02},
{"Model":"CPF","Estimator":"RF","acc":0.7778,"disc":0.1360,"mae":0.02},
{"Model":"CPF","Estimator":"RF","acc":0.7820,"disc":0.1374,"mae":0.02},
{"Model":"CPF","Estimator":"RF","acc":0.7823,"disc":0.1363,"mae":0.02},
{"Model":"CPF","Estimator":"RF","acc":0.7837,"disc":0.1360,"mae":0.02},
{"Model":"CPF","Estimator":"RF","acc":0.7854,"disc":0.1371,"mae":0.02},
{"Model":"CPF","Estimator":"RF","acc":0.7857,"disc":0.1368,"mae":0.02},
{"Model":"CPF","Estimator":"RF","acc":0.7837,"disc":0.1328,"mae":0.02},
{"Model":"CPF","Estimator":"RF","acc":0.7800,"disc":0.1304,"mae":0.02}
]},
"title": {"text": "Target Accuracy (Occupation)", "orient": "bottom", "anchor": "middle", "offset": 7, "dx": -8},
"resolve": {"scale": {"color": "shared", "shape": "shared", "size": "shared"}},
"vconcat": [{
  "title": {"text": "Discrimination (Sex)", "orient": "left", "anchor": "middle", "offset": 6},
  "spacing": 14,
  "resolve": {"scale": {"color": "shared", "shape": "shared", "size": "shared"}},
  "vconcat": [
  {
    "data": {"name": "pts"},
    "transform": [{"filter": "datum.Estimator === 'LR'"}],
    "facet": {
      "column": {"field": "Model", "sort": ["CPFSI","IBSI","CFB","CPF"], "header": {"title": null, "labelExpr": "'Model = ' + datum.value", "labelPadding": 17}},
      "row": {"field": "Estimator", "header": {"title": null, "labelOrient": "right", "labelAngle": 90, "labelExpr": "'Estimator = ' + datum.value", "labelPadding": 18}}
    },
    "bounds": "flush",
    "spacing": {"column": 64},
    "resolve": {"axis": {"x": "independent", "y": "independent"}},
    "spec": {
      "width": 118, "height": 100,
      "layer": [
        {"transform": [{"aggregate": [{"op": "count", "as": "n"}], "groupby": ["Model"]}],
         "mark": {"type": "rule", "strokeDash": [3, 1.5], "color": "#555", "strokeWidth": 0.9},
         "encoding": {"x": {"datum": 0.811}, "y": {"datum": 0.088}, "y2": {"datum": 0.1928}}},
        {"transform": [{"aggregate": [{"op": "count", "as": "n"}], "groupby": ["Model"]}],
         "mark": {"type": "rule", "strokeDash": [3, 1.5], "color": "#555", "strokeWidth": 0.9},
         "encoding": {"y": {"datum": 0.16}, "x": {"datum": 0.7440}, "x2": {"datum": 0.8336}}},
        {"mark": {"type": "point", "filled": true, "opacity": 0.72, "strokeWidth": 0},
         "encoding": {
           "x": {"field": "acc", "type": "quantitative", "scale": {"domain": [0.75, 0.825], "nice": false, "zero": false}, "axis": {"values": [0.75, 0.775, 0.8, 0.825], "tickCount": 10, "format": ".3f", "offset": 15, "labelOverlap": false, "labelFlush": false}},
           "y": {"field": "disc", "type": "quantitative", "scale": {"domain": [0.10, 0.18], "nice": false, "zero": false}, "axis": {"values": [0.10, 0.12, 0.14, 0.16, 0.18], "tickCount": 10, "format": ".2f", "offset": 9, "labelOverlap": false, "labelFlush": false}},
           "color": {"field": "mae", "type": "quantitative",
             "scale": {"domain": [0, 0.08125, 0.1625, 0.24375, 0.325, 0.40625, 0.4875, 0.56875, 0.65], "range": ["#bde7db", "#78bdd6", "#3d78cc", "#403e8a", "#212023", "#6a2038", "#bb3341", "#ef7a45", "#fcdcc2"], "interpolate": "rgb"},
             "legend": {"title": "MAE (Age)", "orient": "none", "legendX": 703, "legendY": -21, "gradientLength": 313, "gradientThickness": 9, "values": [0.1, 0.2, 0.3, 0.4, 0.5, 0.6], "format": ".1f", "labelFontSize": 10, "labelColor": "#262626", "titleOrient": "right", "titleAngle": 90, "titleAnchor": "middle", "titleFontSize": 11, "titleFontWeight": "normal", "titleColor": "#262626", "gradientStrokeColor": "#444", "gradientStrokeWidth": 1, "labelOffset": 4, "labelOverlap": false}},
           "shape": {"field": "Model", "type": "nominal", "scale": {"domain": ["CPFSI","IBSI","CFB","CPF"], "range": ["circle","circle","square","diamond"]}, "legend": null},
           "size": {"field": "Model", "type": "nominal", "scale": {"domain": ["CPFSI","IBSI","CFB","CPF"], "range": [32, 32, 42, 42]}, "legend": null}
         }}
      ]
    }
  },
  {
    "data": {"name": "pts"},
    "transform": [{"filter": "datum.Estimator === 'RF'"}],
    "facet": {
      "column": {"field": "Model", "sort": ["CPFSI","IBSI","CFB","CPF"], "header": {"title": null, "labels": false}},
      "row": {"field": "Estimator", "header": {"title": null, "labelOrient": "right", "labelAngle": 90, "labelExpr": "'Estimator = ' + datum.value", "labelPadding": 18}}
    },
    "bounds": "flush",
    "spacing": {"column": 68},
    "resolve": {"axis": {"x": "independent", "y": "independent"}},
    "spec": {
      "width": 114, "height": 93,
      "layer": [
        {"transform": [{"aggregate": [{"op": "count", "as": "n"}], "groupby": ["Model"]}],
         "mark": {"type": "rule", "strokeDash": [1, 1.5], "color": "#555", "strokeWidth": 0.9},
         "encoding": {"x": {"datum": 0.79}, "y": {"datum": 0.1271}, "y2": {"datum": 0.169}}},
        {"transform": [{"aggregate": [{"op": "count", "as": "n"}], "groupby": ["Model"]}],
         "mark": {"type": "rule", "strokeDash": [1, 1.5], "color": "#555", "strokeWidth": 0.9},
         "encoding": {"y": {"datum": 0.1424}, "x": {"datum": 0.7754}, "x2": {"datum": 0.80}}},
        {"mark": {"type": "point", "filled": true, "opacity": 0.72, "strokeWidth": 0},
         "encoding": {
           "x": {"field": "acc", "type": "quantitative", "scale": {"domain": [0.78, 0.80], "nice": false, "zero": false}, "axis": {"values": [0.78, 0.79, 0.80], "tickCount": 10, "format": ".2f", "offset": 9, "labelOverlap": false, "labelFlush": false}},
           "y": {"field": "disc", "type": "quantitative", "scale": {"domain": [0.13, 0.16], "nice": false, "zero": false}, "axis": {"values": [0.13, 0.14, 0.15, 0.16], "tickCount": 10, "format": ".2f", "offset": 26, "labelOverlap": false, "labelFlush": false}},
           "color": {"field": "mae", "type": "quantitative"},
           "shape": {"field": "Model", "type": "nominal", "scale": {"domain": ["CPFSI","IBSI","CFB","CPF"], "range": ["circle","circle","square","diamond"]}, "legend": null},
           "size": {"field": "Model", "type": "nominal", "scale": {"domain": ["CPFSI","IBSI","CFB","CPF"], "range": [32, 32, 42, 42]}, "legend": null}
         }}
      ]
    }
  }
  ]
}],
"encoding": {}
}
